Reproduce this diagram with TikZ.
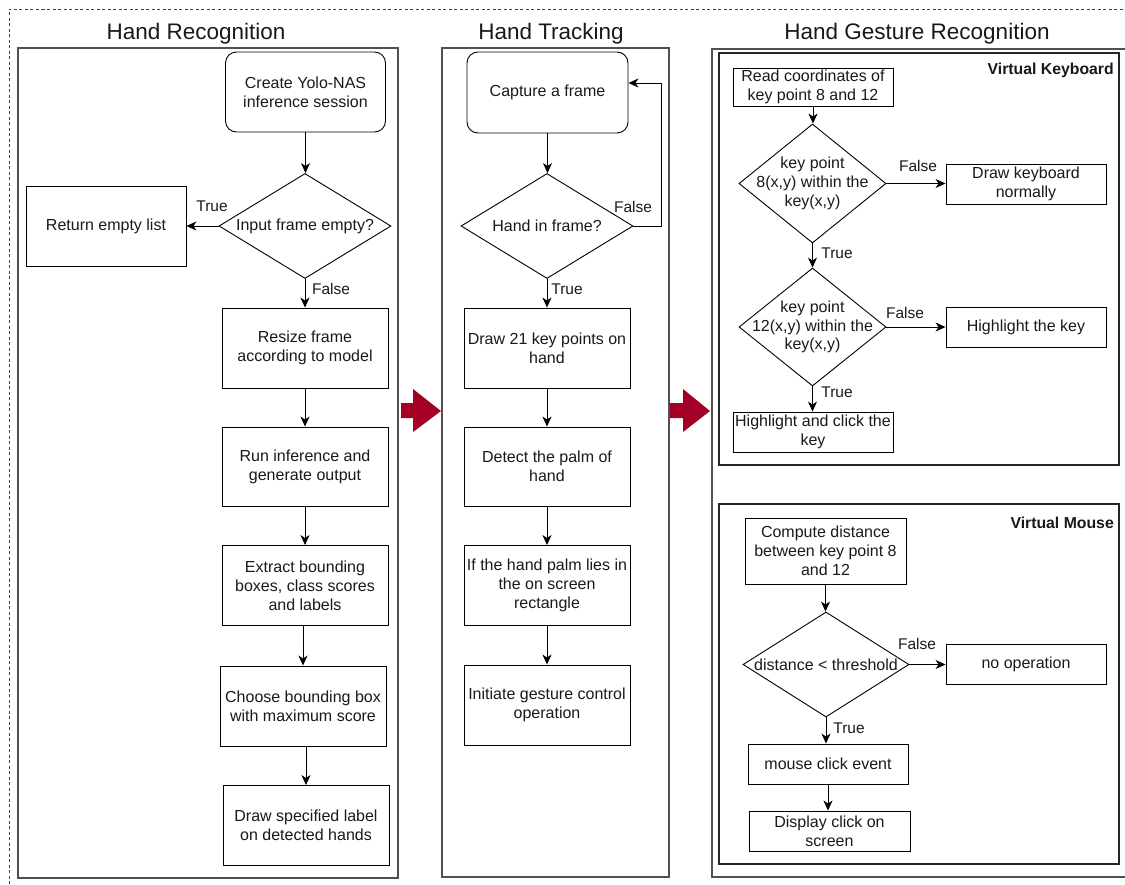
\documentclass[tikz,border=0pt]{standalone}
\usepackage{fontspec}
\setmainfont{Liberation Sans}
\usetikzlibrary{shapes.geometric,arrows.meta}
\definecolor{crim}{HTML}{A20025}
\definecolor{panelgray}{HTML}{505050}
\begin{document}
\begin{tikzpicture}[x=1pt,y=-1pt,
  every node/.style={font=\fontsize{16}{18.8}\selectfont, text=black!90},
  box/.style={draw=black, line width=0.9pt, align=center, inner sep=1pt},
  rbox/.style={box, rounded corners=11pt},
  dia/.style={draw=black, diamond, line width=0.9pt, inner sep=0pt},
  dtext/.style={align=center, inner sep=0pt},
  lbl/.style={font=\fontsize{15.5}{18}\selectfont, inner sep=0pt},
  ttl/.style={font=\fontsize{22.5}{26}\selectfont, inner sep=0pt},
  bttl/.style={font=\fontsize{15.8}{18}\selectfont\bfseries, inner sep=0pt},
  arr/.style={-{Stealth[length=10pt,width=9pt,inset=3pt]}, line width=0.9pt},
  panel/.style={draw=panelgray, line width=1.4pt}]
\useasboundingbox (0,0) rectangle (1125,884);

% outer dashed frame
\draw[dash pattern=on 3pt off 2.5pt, draw=black!75, line width=1pt] (9,884) -- (9,9) -- (1125,9);

% panels
\draw[panel] (18,48) rectangle (398,878);
\draw[panel] (442,48) rectangle (669,877);
\draw[panel] (1125,49) -- (712,49) -- (712,877) -- (1125,877);
\draw[draw=black!85, line width=1.1pt] (719,53) rectangle (1119,465);
\draw[draw=black!85, line width=1.1pt] (719,504) rectangle (1119,864);

% titles
\node[ttl] (t1) at (196,34) {Hand Recognition};
\node[ttl] (t2) at (551,34) {Hand Tracking};
\node[ttl] (t3) at (917,34) {Hand Gesture Recognition};
\node[bttl, anchor=east] (vk) at (1114,70) {Virtual Keyboard};
\node[bttl, anchor=east] (vm) at (1114,523) {Virtual Mouse};

% red arrows
\fill[crim] (401,403) -- (413,403) -- (413,389) -- (441,411) -- (413,432) -- (413,418) -- (401,418) -- cycle;
\fill[crim] (670,403) -- (683,403) -- (683,389) -- (710,411) -- (683,432) -- (683,418) -- (670,418) -- cycle;

% ---------------- Hand Recognition ----------------
\node[rbox, minimum width=160, minimum height=80] (create) at (305.5,92) {Create Yolo-NAS\\inference session};
\node[dia, minimum width=172, minimum height=105] (d1) at (305,226) {};
\node[dtext] (d1t) at (d1.center) {Input frame empty?};
\node[box, minimum width=160, minimum height=80] (ret) at (106,226) {Return empty list};
\node[box, minimum width=166, minimum height=80] (resize) at (305,348) {Resize frame\\according to model};
\node[box, minimum width=166, minimum height=79] (run) at (305,466.5) {Run inference and\\generate output};
\node[box, minimum width=166, minimum height=80] (extract) at (305,585.5) {Extract bounding\\boxes, class scores\\and labels};
\node[box, minimum width=166, minimum height=80] (choose) at (303,706) {Choose bounding box\\with maximum score};
\node[box, minimum width=166, minimum height=80] (drawlbl) at (306,825.5) {Draw specified label\\on detected hands};

\draw[arr] (create.south) -- (create.south |- d1.north);
\draw[arr] (d1.west) -- (ret.east);
\draw[arr] (d1.south) -- (d1.south |- resize.north);
\draw[arr] (resize.south) -- (resize.south |- run.north);
\draw[arr] (run.south) -- (run.south |- extract.north);
\draw[arr] ([xshift=-2pt]extract.south) -- ([xshift=-2pt]extract.south |- choose.north);
\draw[arr] ([xshift=3pt]choose.south) -- ([xshift=3pt]choose.south |- drawlbl.north);
\node[lbl] (l1) at (212,206) {True};
\node[lbl] (l2) at (331,289) {False};

% ---------------- Hand Tracking ----------------
\node[rbox, minimum width=161, minimum height=81] (cap) at (547.5,92.5) {Capture a frame};
\node[dia, minimum width=172, minimum height=105] (d2) at (547,226) {};
\node[dtext] (d2t) at (d2.center) {Hand in frame?};
\node[box, minimum width=166, minimum height=80] (kp) at (547,348) {Draw 21 key points on\\hand};
\node[box, minimum width=166, minimum height=79] (palm) at (547,466.5) {Detect the palm of\\hand};
\node[box, minimum width=166, minimum height=80] (lies) at (547,585.5) {If the hand palm lies in\\the on screen\\rectangle};
\node[box, minimum width=166, minimum height=80] (init) at (547,705) {Initiate gesture control\\operation};
\coordinate (loopin) at ([yshift=9.5pt]cap.east);

\draw[arr] (cap.south) -- (cap.south |- d2.north);
\draw[arr] (d2.east) -- ++(28,0) |- (loopin);
\draw[arr] (d2.south) -- (d2.south |- kp.north);
\draw[arr] (kp.south) -- (kp.south |- palm.north);
\draw[arr] (palm.south) -- (palm.south |- lies.north);
\draw[arr] (lies.south) -- (lies.south |- init.north);
\node[lbl] (l3) at (633,207) {False};
\node[lbl] (l4) at (567,289) {True};

% ---------------- Virtual Keyboard ----------------
\node[box, minimum width=160, minimum height=38] (read) at (813,87) {Read coordinates of\\key point 8 and 12};
\node[dia, minimum width=147, minimum height=119] (d3) at (812.5,183.5) {};
\node[dtext] (d3t) at (d3.center) {key point\\8(x,y) within the\\key(x,y)};
\node[box, minimum width=160, minimum height=40] (drawkb) at (1026,184) {Draw keyboard\\normally};
\node[dia, minimum width=147, minimum height=118] (d4) at (812.5,327) {};
\node[dtext] (d4t) at (d4.center) {key point\\12(x,y) within the\\key(x,y)};
\node[box, minimum width=160, minimum height=40] (hlkey) at (1026,327) {Highlight the key};
\node[box, minimum width=160, minimum height=40] (hlclick) at (813,432) {Highlight and click the\\key};

\draw[arr] (read.south) -- (read.south |- d3.north);
\draw[arr] (d3.east) -- (d3.east -| drawkb.west);
\draw[arr] (d3.south) -- (d3.south |- d4.north);
\draw[arr] (d4.east) -- (d4.east -| hlkey.west);
\draw[arr] (d4.south) -- (d4.south |- hlclick.north);
\node[lbl] (l5) at (918,166) {False};
\node[lbl] (l6) at (837,253) {True};
\node[lbl] (l7) at (905,313) {False};
\node[lbl] (l8) at (837,392) {True};

% ---------------- Virtual Mouse ----------------
\node[box, minimum width=161, minimum height=66] (comp) at (825.5,551) {Compute distance\\between key point 8\\and 12};
\node[dia, minimum width=166, minimum height=105] (d5) at (826,664.5) {};
\node[dtext] (d5t) at (d5.center) {distance < threshold};
\node[box, minimum width=160, minimum height=40] (noop) at (1026,664.5) {no operation};
\node[box, minimum width=160, minimum height=40] (mouse) at (828,764) {mouse click event};
\node[box, minimum width=161, minimum height=40] (disp) at (829.5,831) {Display click on\\screen};

\draw[arr] (comp.south) -- (comp.south |- d5.north);
\draw[arr] (d5.east) -- (d5.east -| noop.west);
\draw[arr] (d5.south) -- (d5.south |- mouse.north);
\draw[arr] (mouse.south) -- (mouse.south |- disp.north);
\node[lbl] (l9) at (917,644) {False};
\node[lbl] (l10) at (849,728) {True};
\end{tikzpicture}
\end{document}
